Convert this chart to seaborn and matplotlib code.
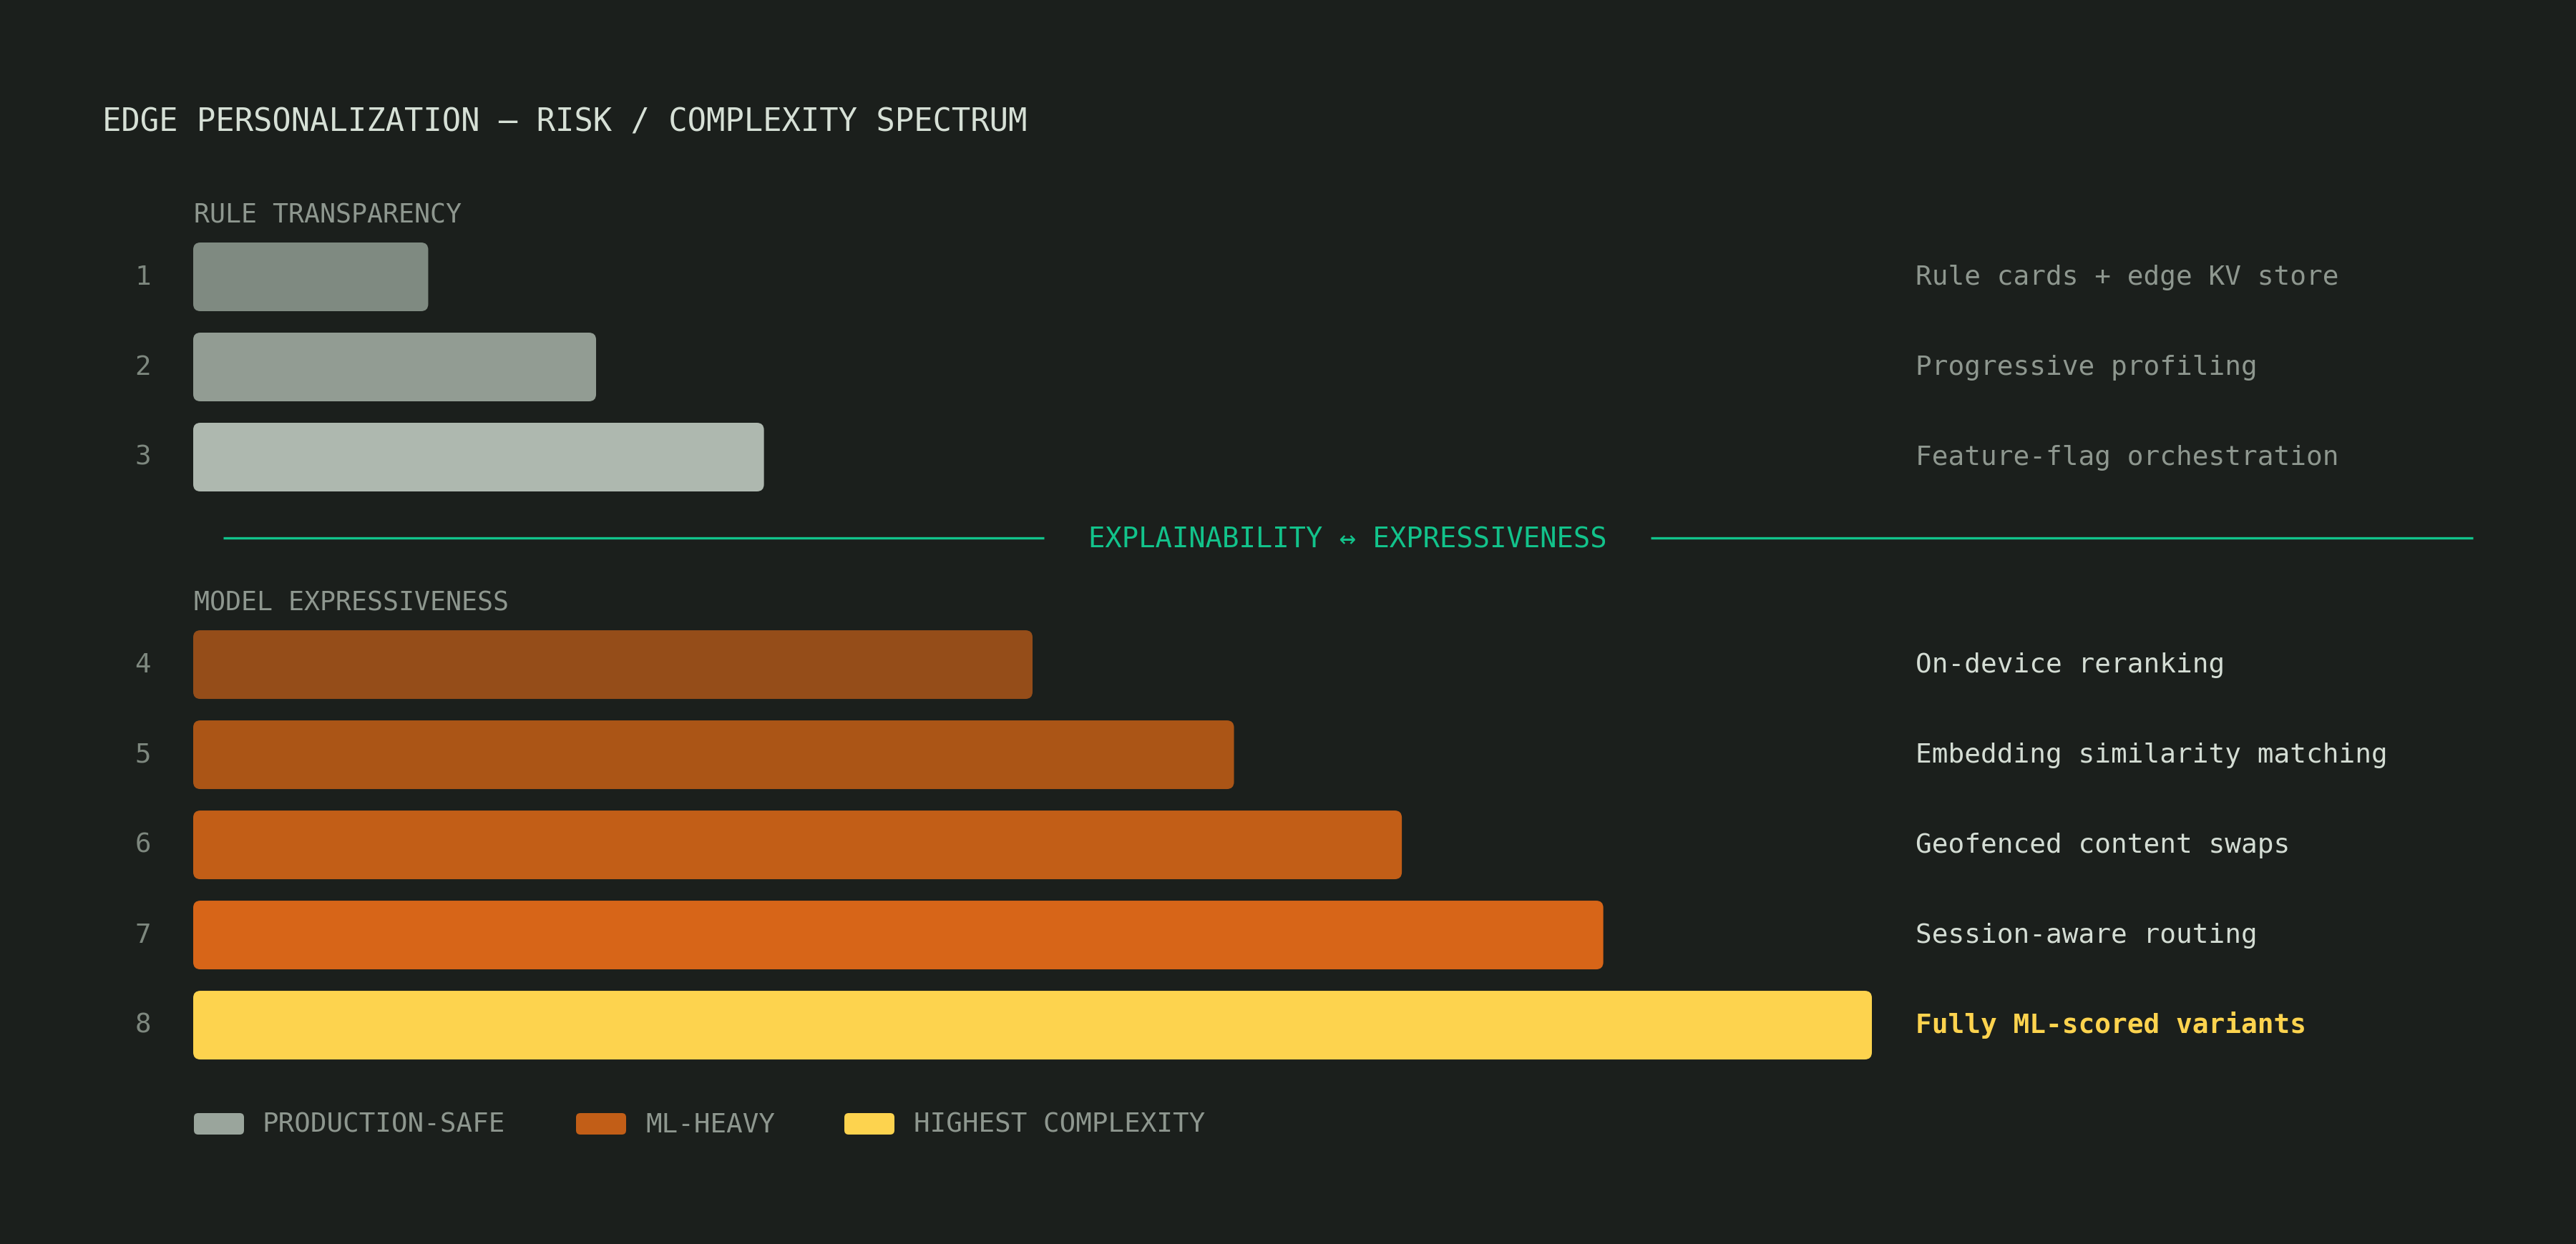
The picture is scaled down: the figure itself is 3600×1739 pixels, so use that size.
import matplotlib
matplotlib.use("Agg")
import matplotlib.pyplot as plt
from matplotlib.patches import FancyBboxPatch
import seaborn as sns
import pandas as pd

# ---------------- data ----------------
ranks = [1, 2, 3, 4, 5, 6, 7, 8]
techniques = [
    "Rule cards + edge KV store",
    "Progressive profiling",
    "Feature-flag orchestration",
    "On-device reranking",
    "Embedding similarity matching",
    "Geofenced content swaps",
    "Session-aware routing",
    "Fully ML-scored variants",
]
complexity = [14, 24, 34, 50, 62, 72, 84, 100]
groups = ["rule", "rule", "rule", "model", "model", "model", "model", "top"]
bar_colors = ["#7f8a81", "#929c93", "#aeb8af", "#954d19",
              "#ab5516", "#c25e17", "#d76518", "#fdd34e"]
label_colors = ["#8e978f", "#8e978f", "#8e978f", "#d4ddd4",
                "#d4ddd4", "#d4ddd4", "#d4ddd4", "#fdd34e"]
section_titles = ["RULE TRANSPARENCY", "MODEL EXPRESSIVENESS"]
divider_text = "EXPLAINABILITY \u2194 EXPRESSIVENESS"
legend_labels = ["PRODUCTION-SAFE", "ML-HEAVY", "HIGHEST COMPLEXITY"]
legend_colors = ["#9aa59c", "#c25e17", "#fdd34e"]
title = "EDGE PERSONALIZATION \u2014 RISK / COMPLEXITY SPECTRUM"

# ---------------- style ----------------
BG = "#1b1f1c"
GREEN = "#12c38b"
MUTED = "#8e978f"
sns.set_theme(style="white")
plt.rcParams["font.family"] = ["DejaVu Sans Mono", "DejaVu Sans"]

W, H, DPI = 3600, 1740, 200
fig = plt.figure(figsize=(W / DPI, H / DPI), dpi=DPI, facecolor=BG)
ax = fig.add_axes([0, 0, 1, 1])
ax.set_facecolor(BG)

# pixel <-> data mapping
X0, XS = 270.0, 23.46          # px of value 0, px per unit
Y0, YS = 388.0, 126.0          # px of first row centre, px per row
GAP = 1.302                    # extra rows between the two sections

def dx(px):
    return (px - X0) / XS

def dy(py):
    return (py - Y0) / YS

ASP = (1 / YS) / (1 / XS)

positions = [i if g == "rule" else i + GAP for i, g in enumerate(groups)]

df = pd.DataFrame({"complexity": complexity, "pos": positions,
                   "technique": techniques})
sns.barplot(data=df, x="complexity", y="pos", hue="technique",
            palette=dict(zip(techniques, bar_colors)), orient="h",
            native_scale=True, dodge=False, legend=False, saturation=1,
            width=96 / 126, ax=ax)

# rounded bars
r_bar = 10 / XS
for p in list(ax.patches):
    x0, y0, w, h = p.get_x(), p.get_y(), p.get_width(), p.get_height()
    fc = p.get_facecolor()
    p.remove()
    ax.add_patch(FancyBboxPatch((x0, y0), w, h,
                                boxstyle=f"round,pad=0,rounding_size={r_bar}",
                                mutation_aspect=ASP, fc=fc, ec="none"))

ax.set_xlim(dx(0), dx(W))
ax.set_ylim(dy(H), dy(0))
ax.axis("off")

# ---------------- text helpers ----------------
PX_PER_PT = DPI / 72.0

def txt(xpx, ycpx, s, size, color, ha="left", weight="normal"):
    base = ycpx + 0.729 * size * PX_PER_PT / 2 - 4
    fig.text(xpx / W, 1 - base / H, s, fontsize=size, color=color,
             ha=ha, va="baseline", fontweight=weight)

# title and section labels
txt(143, 172, title, 15.8, "#d6e0d6")
txt(271, 302, section_titles[0], 13.2, MUTED)
txt(271, 844, section_titles[1], 13.2, MUTED)

# row numbers and right-hand labels
for i, (rk, name) in enumerate(zip(ranks, techniques)):
    yc = Y0 + positions[i] * YS
    txt(200, yc, str(rk), 13.5, "#7e887f", ha="center")
    txt(2677, yc, name, 13.6, label_colors[i],
        weight="bold" if groups[i] == "top" else "normal")

# divider
ydiv = 753
ax.plot([dx(312), dx(1459)], [dy(ydiv), dy(ydiv)], color=GREEN, lw=1.2,
        solid_capstyle="butt")
ax.plot([dx(2307), dx(3456)], [dy(ydiv), dy(ydiv)], color=GREEN, lw=1.2,
        solid_capstyle="butt")
txt(1883, ydiv + 2, divider_text, 14, GREEN, ha="center")

# legend
sw_x = [271, 805, 1180]
tx_x = [366, 902, 1277]
r_leg = 6 / XS
for sx, tx, lab, col in zip(sw_x, tx_x, legend_labels, legend_colors):
    ax.add_patch(FancyBboxPatch((dx(sx), dy(1557)), 70 / XS, 30 / YS,
                                boxstyle=f"round,pad=0,rounding_size={r_leg}",
                                mutation_aspect=ASP, fc=col, ec="none"))
    txt(tx, 1573, lab, 13.5, MUTED)

fig.savefig("out.png", dpi=DPI, facecolor=BG)
